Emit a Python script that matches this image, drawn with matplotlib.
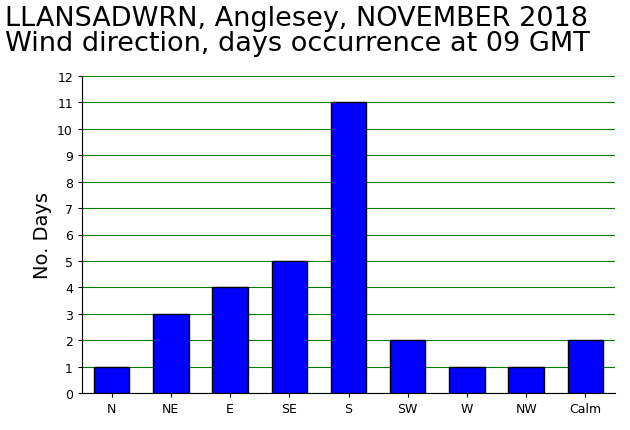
import matplotlib
matplotlib.use("Agg")
import matplotlib.pyplot as plt

directions = ["N", "NE", "E", "SE", "S", "SW", "W", "NW", "Calm"]
days = [1, 3, 4, 5, 11, 2, 1, 1, 2]

fig = plt.figure(figsize=(6.3, 4.31), dpi=100)
ax = fig.add_axes([82 / 630, 37 / 431, 533 / 630, 317 / 431])

ax.bar(range(len(directions)), days, width=0.6, color="#0000ff",
       edgecolor="black", linewidth=1, zorder=3)
ax.set_xlim(-0.5, len(directions) - 0.5)
ax.set_ylim(0, 12)
ax.set_yticks(range(13))
ax.set_xticks(range(len(directions)))
ax.set_xticklabels(directions)
ax.tick_params(labelsize=9, length=3)
ax.yaxis.grid(True, color="#008000", linewidth=0.8, zorder=0)
for s in ["top", "right"]:
    ax.spines[s].set_visible(False)
ax.set_ylabel("No. Days", fontsize=14)

fig.text(5 / 630, 1 - 6 / 431,
         "LLANSADWRN, Anglesey, NOVEMBER 2018\nWind direction, days occurrence at 09 GMT",
         fontsize=19.5, ha="left", va="top", linespacing=0.95)

fig.savefig("out.png", dpi=100)
